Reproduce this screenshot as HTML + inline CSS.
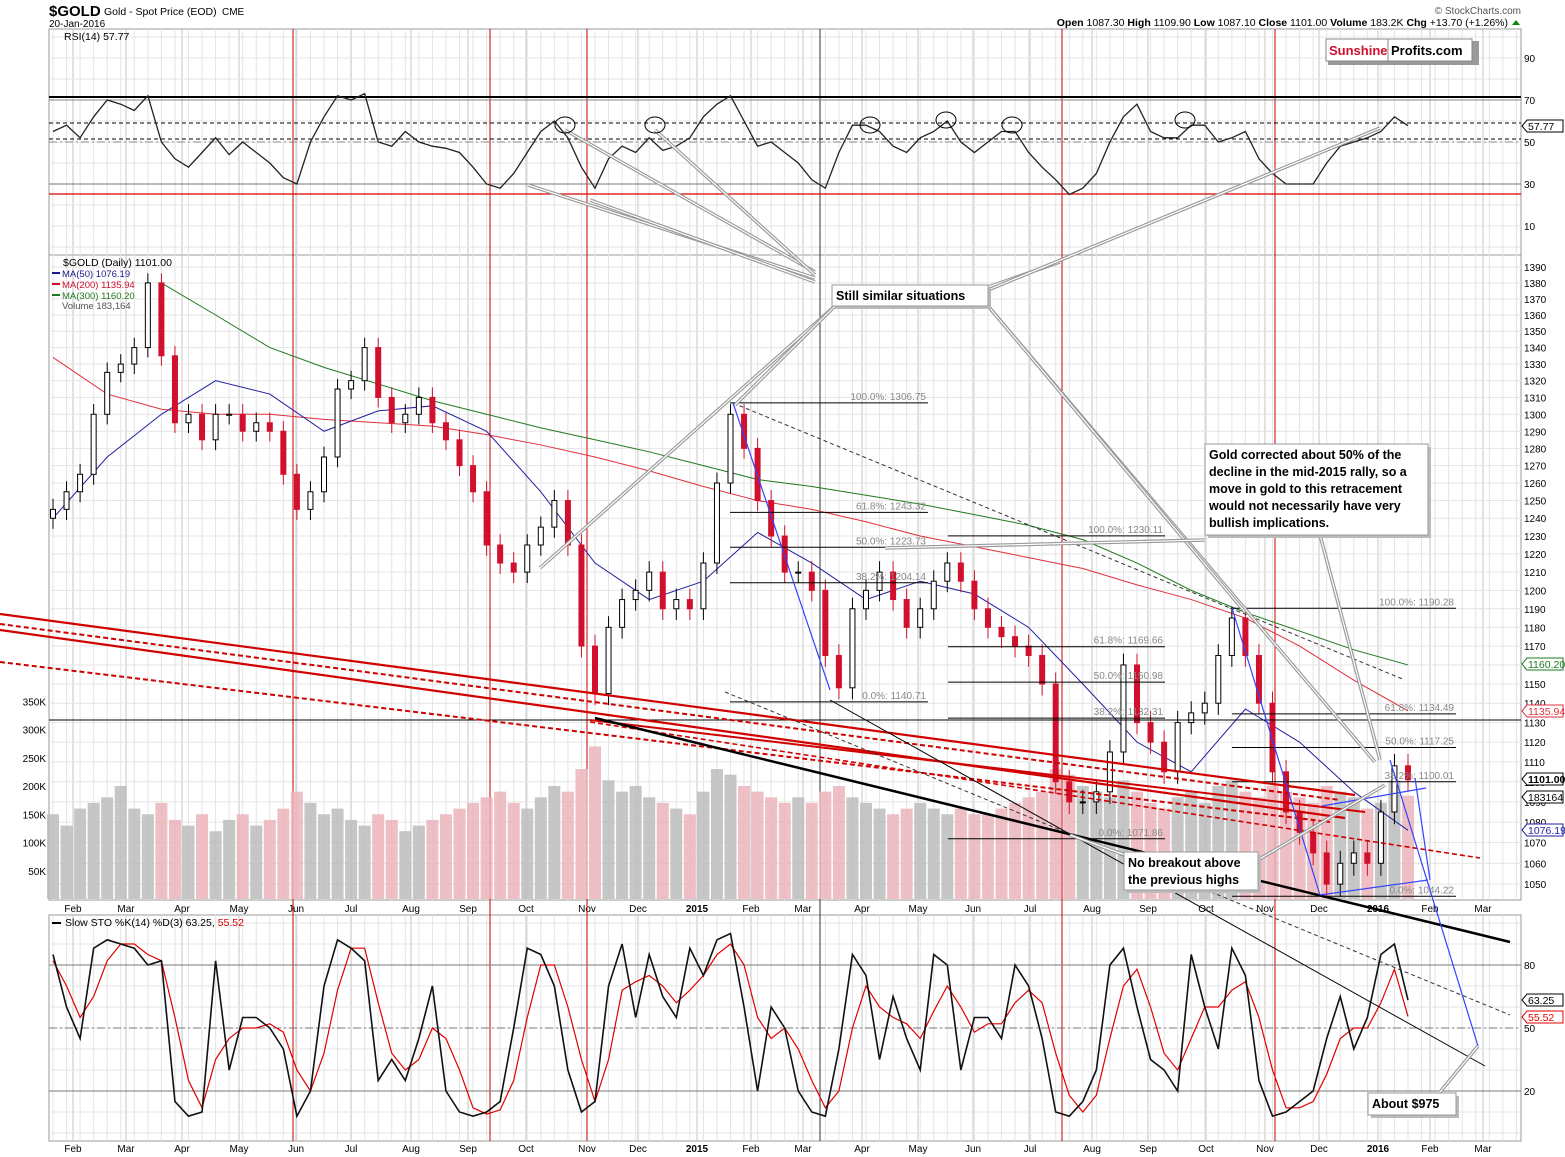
<!DOCTYPE html>
<html><head><meta charset="utf-8"><style>
body{margin:0;background:#fff;}
svg{display:block;font-family:"Liberation Sans",sans-serif;}
</style></head><body>
<svg id="c" width="1565" height="1157" xmlns="http://www.w3.org/2000/svg"></svg>
<script>
// ---------- data (weekly) ----------
const closes=[1245,1255,1265,1300,1325,1330,1340,1380,1335,1295,1300,1285,1300,1300,1290,1295,1290,1265,1245,1255,1275,1315,1320,1340,1310,1295,1300,1310,1295,1285,1270,1255,1225,1215,1210,1225,1235,1250,1225,1170,1145,1180,1195,1200,1210,1190,1195,1190,1215,1260,1300,1280,1250,1230,1210,1210,1200,1165,1148,1190,1200,1210,1195,1180,1190,1205,1215,1205,1190,1180,1175,1170,1165,1150,1100,1090,1090,1095,1115,1160,1130,1120,1105,1130,1135,1140,1165,1185,1165,1140,1105,1085,1075,1065,1050,1060,1065,1060,1085,1108,1101];
const volumes=[150,130,160,170,180,200,160,150,170,140,130,150,120,140,150,130,140,160,190,170,150,160,140,130,150,140,120,130,140,150,160,170,180,190,170,160,180,200,190,230,270,210,190,200,180,170,160,150,190,230,220,200,190,180,170,180,170,190,200,180,170,160,150,160,170,160,150,160,150,150,160,170,180,190,230,220,200,190,180,210,190,170,160,180,190,170,200,210,190,180,200,190,180,170,200,190,180,160,170,210,183];
const rsi=[55,58,52,62,70,68,65,72,50,42,38,45,52,44,50,45,40,33,30,50,62,72,70,73,50,48,55,50,48,47,45,38,30,28,35,45,55,60,52,38,28,42,48,45,52,46,48,52,62,68,72,60,48,50,45,40,32,28,45,58,58,55,48,45,52,55,60,50,45,50,55,55,45,38,32,25,28,35,50,62,68,55,52,52,58,58,50,52,55,42,35,30,30,30,40,48,50,52,55,62,57.77];
const stoK=[85,60,45,88,92,90,88,80,82,15,8,10,82,30,55,55,50,40,8,20,70,92,88,82,25,35,25,45,70,20,10,8,10,15,50,88,85,70,30,10,15,70,90,55,85,65,55,88,75,92,95,60,20,60,50,20,10,8,40,85,75,35,65,45,30,85,80,30,55,55,45,80,70,45,10,8,15,30,80,88,60,35,30,20,85,60,40,88,75,25,8,10,15,20,45,65,40,55,85,90,63.25];
const stoD=[82,70,55,65,82,90,90,85,82,55,25,12,35,45,50,50,52,48,30,20,38,68,88,88,62,38,30,35,50,45,30,12,9,11,25,55,80,80,60,35,15,35,68,72,75,70,62,68,75,85,90,80,55,45,50,40,25,12,20,50,70,60,55,52,45,58,70,60,48,52,52,62,68,62,38,18,10,18,45,70,78,60,38,30,45,60,60,68,72,55,30,12,12,15,28,45,50,50,62,78,55.52];
// moving averages sampled every 4 weeks
const ma50=[1240,1275,1300,1320,1312,1290,1302,1305,1290,1255,1215,1195,1205,1232,1215,1195,1205,1198,1180,1150,1120,1105,1137,1120,1095,1076];
const ma200=[1334,1312,1303,1300,1300,1297,1295,1293,1288,1282,1275,1267,1258,1250,1245,1238,1230,1224,1218,1212,1203,1195,1185,1170,1152,1136];
const ma300=[null,null,1380,1360,1340,1328,1318,1308,1300,1292,1285,1278,1270,1262,1258,1253,1248,1242,1236,1228,1215,1200,1188,1178,1168,1160];
const priceTicks=[1390,1380,1370,1360,1350,1340,1330,1320,1310,1300,1290,1280,1270,1260,1250,1240,1230,1220,1210,1200,1190,1180,1170,1160,1150,1140,1130,1120,1110,1100,1090,1080,1070,1060,1050];
const volTicks=[50,100,150,200,250,300,350];
const rsiTicks=[10,30,50,70,90];
const stoTicks=[20,50,80];
const months=[["Feb",73],["Mar",126],["Apr",182],["May",239],["Jun",296],["Jul",351],["Aug",411],["Sep",468],["Oct",526],["Nov",587],["Dec",638],["2015",697],["Feb",751],["Mar",803],["Apr",862],["May",918],["Jun",973],["Jul",1030],["Aug",1092],["Sep",1148],["Oct",1206],["Nov",1265],["Dec",1319],["2016",1378],["Feb",1430],["Mar",1483]];

// ---------- axes ----------
const L=49,R=1521;
const X=i=>53+i*13.55;
const PY=p=>267+(Math.log(1390)-Math.log(p))*2200;
const VY=v=>899-v*0.565;
const RY=v=>142-(v-50)*2.1;
const SY=v=>1028-(v-50)*2.1;
const NS="http://www.w3.org/2000/svg";
const svg=document.getElementById('c');
function el(t,a,parent){const e=document.createElementNS(NS,t);for(const k in a)e.setAttribute(k,a[k]);(parent||svg).appendChild(e);return e;}
function txt(s,x,y,a){const e=el('text',Object.assign({x:x,y:y,'font-size':11,fill:'#000'},a||{}));e.textContent=s;return e;}

// panels
const panels=[[29,255],[255,900],[915,1141]];
panels.forEach((p,k)=>{const r=el('rect',{x:L,y:p[0],width:R-L,height:p[1]-p[0],fill:'#fff',stroke:'#999'});
});
for(let i=-1;i<=108;i++){const x=X(i);if(x<L||x>R)continue;
 panels.forEach(p=>el('line',{x1:x,x2:x,y1:p[0],y2:p[1],stroke:'#e4e4e4'}));}
months.forEach(m=>panels.forEach(p=>el('line',{x1:m[1],x2:m[1],y1:p[0],y2:p[1],stroke:'#c4c4c4'})));
priceTicks.forEach(t=>{el('line',{x1:L,x2:R,y1:PY(t),y2:PY(t),stroke:'#e4e4e4'});
 const e=txt(t,1524,PY(t)+4,{'font-size':10});});
for(let v=0;v<=100;v+=10){el('line',{x1:L,x2:R,y1:RY(v),y2:RY(v),stroke:'#e4e4e4'});el('line',{x1:L,x2:R,y1:SY(v),y2:SY(v),stroke:'#e4e4e4'});}
rsiTicks.forEach(t=>{const e=txt(t,1524,RY(t)+4,{'font-size':10});});
stoTicks.forEach(t=>{const e=txt(t,1524,SY(t)+4,{'font-size':10});});
volTicks.forEach(t=>{const e=txt(t+'K',46,VY(t)+4,{'font-size':10,'text-anchor':'end'});});
months.forEach(m=>{[908,1148].forEach(y=>{const e=txt(m[0],m[1],y+4,{'font-size':10,'text-anchor':'middle','font-weight':m[0].length==4?'bold':'normal'});
 });});

[[293,'#cc0000'],[490,'#cc0000'],[587,'#cc0000'],[1062,'#cc0000'],[1275,'#cc0000'],[820,'#333']].forEach(v=>{
 const e=el('line',{x1:v[0],x2:v[0],y1:29,y2:1141,stroke:v[1],'stroke-width':1});});

el('line',{x1:L,x2:R,y1:97,y2:97,stroke:'#000','stroke-width':2});
el('line',{x1:L,x2:R,y1:RY(70),y2:RY(70),stroke:'#888'});
el('line',{x1:L,x2:R,y1:123,y2:123,stroke:'#000','stroke-dasharray':'4,3'});
el('line',{x1:L,x2:R,y1:139,y2:139,stroke:'#000','stroke-dasharray':'4,3'});
el('line',{x1:L,x2:R,y1:RY(50),y2:RY(50),stroke:'#888','stroke-dasharray':'8,3,2,3'});
el('line',{x1:L,x2:R,y1:RY(30),y2:RY(30),stroke:'#777'});
el('line',{x1:L,x2:R,y1:194,y2:194,stroke:'#dd0000','stroke-width':1.2});
const rl=el('polyline',{points:rsi.map((v,i)=>X(i)+','+RY(v)).join(' '),fill:'none',stroke:'#222','stroke-width':1.3});


volumes.forEach((v,i)=>{const up=i==0||closes[i]>=closes[i-1];
 const b=el('rect',{x:X(i)-6,y:VY(v),width:12,height:899-VY(v),fill:up?'#bcbcbc':'#ebb4ba',opacity:0.85});
 });

function maLine(arr,col,name){const pts=[];arr.forEach((v,k)=>{if(v!=null)pts.push(X(k*4)+','+PY(v));});
 const e=el('polyline',{points:pts.join(' '),fill:'none',stroke:col,'stroke-width':1});}
maLine(ma300,'#1e7a1e','ma300-line');maLine(ma200,'#e0303c','ma200-line');maLine(ma50,'#2020a0','ma50-line');

closes.forEach((c,i)=>{const o=i==0?c-5:closes[i-1];const up=c>=o;const hi=Math.max(o,c)+6,lo=Math.min(o,c)-6;const x=X(i);
 const col=up?'#000':'#d0102c';
 el('line',{x1:x,x2:x,y1:PY(hi),y2:PY(lo),stroke:col});
 const b=el('rect',{x:x-2.5,y:PY(Math.max(o,c)),width:5,height:Math.max(1,PY(Math.min(o,c))-PY(Math.max(o,c))),fill:up?'#fff':'#d0102c',stroke:col});
 });

el('line',{x1:L,x2:R,y1:SY(80),y2:SY(80),stroke:'#777'});
el('line',{x1:L,x2:R,y1:SY(20),y2:SY(20),stroke:'#777'});
el('line',{x1:L,x2:R,y1:SY(50),y2:SY(50),stroke:'#777','stroke-dasharray':'8,3,2,3'});
const sd=el('polyline',{points:stoD.map((v,i)=>X(i)+','+SY(v)).join(' '),fill:'none',stroke:'#e00000','stroke-width':1.2});

const sk=el('polyline',{points:stoK.map((v,i)=>X(i)+','+SY(v)).join(' '),fill:'none',stroke:'#111','stroke-width':1.6});


function ln(x1,y1,x2,y2,col,w,dash){const a={x1:x1,y1:y1,x2:x2,y2:y2,stroke:col,'stroke-width':w||1};if(dash)a['stroke-dasharray']=dash;return el('line',a);}
function dbl(x1,y1,x2,y2){ln(x1,y1,x2,y2,'#999',3.5);ln(x1,y1,x2,y2,'#fff',1.2);}
ln(L,720,R,720,'#000',1);
[[730,928,1306.75,'100.0%: 1306.75'],[730,928,1243.32,'61.8%: 1243.32'],[730,928,1223.73,'50.0%: 1223.73'],[730,928,1204.14,'38.2%: 1204.14'],[730,928,1140.71,'0.0%: 1140.71'],
 [948,1165,1230.11,'100.0%: 1230.11'],[948,1165,1169.66,'61.8%: 1169.66'],[948,1165,1150.98,'50.0%: 1150.98'],[948,1165,1132.31,'38.2%: 1132.31'],[948,1165,1071.86,'0.0%: 1071.86'],
 [1232,1456,1190.28,'100.0%: 1190.28'],[1232,1456,1134.49,'61.8%: 1134.49'],[1232,1456,1117.25,'50.0%: 1117.25'],[1232,1456,1100.01,'38.2%: 1100.01'],[1232,1456,1044.22,'0.0%: 1044.22']].forEach(f=>{
 ln(f[0],PY(f[2]),f[1],PY(f[2]),'#000',1);const t=txt(f[3],f[1]-2,PY(f[2])-3,{'font-size':10,fill:'#888','text-anchor':'end'});});
ln(0,614,1355,795,'#d00000',2.2);ln(0,630,1345,818,'#d00000',2.2);
ln(0,662,1330,822,'#d00000',2,'5,3');ln(0,624,1340,800,'#d00000',2,'5,3');
ln(590,720,1365,812,'#d00000',2);ln(590,722,1480,858,'#d00000',1.6,'5,3');
ln(595,718,1510,942,'#000',2.5);
ln(830,700,1485,1066,'#000',1);
ln(725,692,1510,1015,'#333',1,'4,3');
ln(733,403,1230,608,'#333',1,'4,3');ln(1230,608,1405,680,'#333',1,'4,3');
ln(733,403,830,690,'#3344ff',1.2);ln(1232,608,1320,895,'#3344ff',1.2);ln(1390,760,1478,1046,'#3344ff',1.2);
ln(1320,895,1428,880,'#3344ff',1.2);ln(1322,806,1426,788,'#3344ff',1.2);ln(1415,778,1430,880,'#3344ff',1.2);
dbl(815,278,528,185);dbl(815,282,590,200);
dbl(815,272,565,130);dbl(815,275,655,130);
dbl(836,305,540,568);dbl(836,305,735,405);
dbl(988,287,1060,262);dbl(988,290,1380,128);
dbl(988,306,1375,762);dbl(988,306,1245,612);
dbl(1205,540,885,548);dbl(1320,535,1380,760);
dbl(1258,860,1385,785);dbl(1125,855,1070,835);
dbl(1440,1092,1478,1046);
[[565,125],[655,125],[870,125],[946,120],[1012,125],[1185,120]].forEach(c=>{const e=el('ellipse',{cx:c[0],cy:c[1],rx:10,ry:8,fill:'none',stroke:'#000'});});
function box(x,y,w,h,lines,name){const g=el('g',{});
 el('rect',{x:x+3,y:y+3,width:w,height:h,fill:'#bbb'},g);el('rect',{x:x,y:y,width:w,height:h,fill:'#fff',stroke:'#999'},g);
 lines.forEach((s,k)=>{const t=el('text',{x:x+4,y:y+15+k*17,'font-size':12.5,'font-weight':'bold',fill:'#000'},g);t.textContent=s;});}
box(832,285,156,21,['Still similar situations'],'annotation-similar');
box(1205,444,223,91,['Gold corrected about 50% of the','decline in the mid-2015 rally, so a','move in gold to this retracement','would not necessarily have very','bullish implications.'],'annotation-retracement');
box(1124,852,134,38,['No breakout above','the previous highs'],'annotation-no-breakout');
box(1368,1093,88,22,['About $975'],'annotation-975');

function tag(y,s,col,bold,name){const g=el('g',{});
 el('polygon',{points:`1522,${y} 1527,${y-6} 1563,${y-6} 1563,${y+6} 1527,${y+6}`,fill:'#fff',stroke:col},g);
 const t=el('text',{x:1528,y:y+4,'font-size':10.5,fill:col,'font-weight':bold?'bold':'normal'},g);t.textContent=s;}
tag(126,'57.77','#000',0,'rsi-value-tag');tag(664,'1160.20','#1e7a1e',0,'ma300-tag');tag(711,'1135.94','#e0303c',0,'ma200-tag');
tag(779,'1101.00','#000',1,'close-tag');tag(797,'183164','#000',0,'volume-tag');tag(830,'1076.19','#2020a0',0,'ma50-tag');
tag(1000,'63.25','#000',0,'stoch-k-tag');tag(1017,'55.52','#e00000',0,'stoch-d-tag');

let t=txt('$GOLD',49,16,{'font-size':15,'font-weight':'bold'});
t=txt('Gold - Spot Price (EOD)',104,15,{'font-size':10.5});t=txt('CME',222,15,{'font-size':10});
t=txt('20-Jan-2016',49,27,{'font-size':10});
t=txt('© StockCharts.com',1521,14,{'font-size':10,fill:'#555','text-anchor':'end'});
t=txt('',1508,26,{'font-size':10.5,'text-anchor':'end'});t.innerHTML='<tspan font-weight="bold">Open</tspan> 1087.30  <tspan font-weight="bold">High</tspan> 1109.90  <tspan font-weight="bold">Low</tspan> 1087.10  <tspan font-weight="bold">Close</tspan> 1101.00  <tspan font-weight="bold">Volume</tspan> 183.2K  <tspan font-weight="bold">Chg</tspan> +13.70 (+1.26%)';

el('polygon',{points:'1512,25 1520,25 1516,20',fill:'#0a8a0a'});
txt('RSI(14) 57.77',64,40,{'font-size':10.5});
txt('$GOLD (Daily) 1101.00',63,266,{'font-size':10.5});
txt('MA(50) 1076.19',62,277,{'font-size':9.5,fill:'#1a1a90'});
txt('MA(200) 1135.94',62,288,{'font-size':9.5,fill:'#d0102c'});
txt('MA(300) 1160.20',62,299,{'font-size':9.5,fill:'#1e7a1e'});
txt('Volume 183,164',62,309,{'font-size':9.5,fill:'#555'});
[277,288,299].forEach((y,k)=>ln(52,y-4,60,y-4,['#1a1a90','#d0102c','#1e7a1e'][k],2));
ln(52,923,61,923,'#000',2);
t=txt('',65,926,{'font-size':10.5});t.innerHTML='Slow STO %K(14) %D(3) 63.25, <tspan fill="#e00000">55.52</tspan>';
const lg=el('g',{});
el('rect',{x:1328,y:41,width:151,height:24,fill:'#999'},lg);el('rect',{x:1326,y:39,width:146,height:22,fill:'#fff',stroke:'#888'},lg);
el('line',{x1:1388,y1:39,x2:1388,y2:61,stroke:'#888'},lg);
t=el('text',{x:1329,y:55,'font-size':13,'font-weight':'bold',fill:'#d0102c'},lg);t.textContent='Sunshine';
t=el('text',{x:1391,y:55,'font-size':13,'font-weight':'bold',fill:'#000'},lg);t.textContent='Profits.com';
</script>
</body></html>
